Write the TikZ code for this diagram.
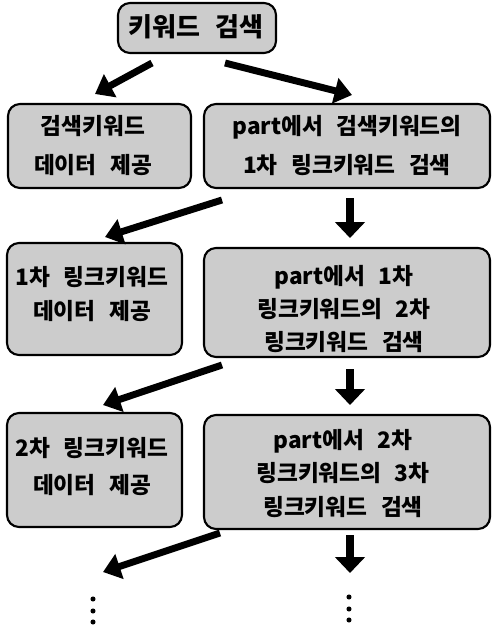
\documentclass[tikz,border=0pt]{standalone}
\usepackage{fontspec}
\setmainfont{Noto Sans CJK KR}[WordSpace=2.6]
\usetikzlibrary{arrows.meta}
\begin{document}
\begin{tikzpicture}[x=0.75pt,y=-0.75pt,
  box/.style={draw=black, line width=1.6pt, rounded corners=9pt, fill=black!20, inner sep=0pt},
  txt/.style={align=center, inner sep=0pt, font=\bfseries\fontsize{17pt}{#1}\selectfont},
  txt/.default=26pt,
  arr/.style={line width=5.2pt, -{Triangle[width=19pt,length=13pt]}},
  varr/.style={line width=6.5pt, -{Triangle[width=22pt,length=12pt]}},
  dotc/.style={circle, fill=black, inner sep=0pt, minimum size=3.8pt}]
\useasboundingbox (0,0) rectangle (494,629);
% boxes
\node[box, minimum width=118.5pt, minimum height=37.5pt] (top) at (197,28) {};
\node[box, minimum width=137.25pt, minimum height=63pt] (r1L) at (99.5,146) {};
\node[box, minimum width=214.5pt, minimum height=63pt] (r1R) at (347,146) {};
\node[box, minimum width=131.25pt, minimum height=84pt] (r2L) at (94.5,299) {};
\node[box, minimum width=214.5pt, minimum height=81.75pt] (r2R) at (347,302.5) {};
\node[box, minimum width=131.25pt, minimum height=85.5pt] (r3L) at (94.5,470) {};
\node[box, minimum width=214.5pt, minimum height=85.5pt] (r3R) at (347,472) {};
% texts
\node[txt, font=\bfseries\fontsize{19.5pt}{24pt}\selectfont] (topT) at (196,27) {키워드 검색};
\node[txt=29pt] (r1LT) at (93,145.5) {검색키워드\\데이터 제공};
\node[txt=29pt] (r1RT) at (347,145.5) {part에서 검색키워드의\\1차 링크키워드 검색};
\node[txt=25.5pt] (r2LT) at (92,294) {1차 링크키워드\\데이터 제공};
\node[txt=24.75pt] (r2RT) at (344,309) {part에서 1차\\링크키워드의 2차\\링크키워드 검색};
\node[txt=27.75pt] (r3LT) at (92,466.5) {2차 링크키워드\\데이터 제공};
\node[txt=25pt] (r3RT) at (343,473.5) {part에서 2차\\링크키워드의 3차\\링크키워드 검색};
% arrow end points
\coordinate (a1s) at (152,63);  \coordinate (a1e) at (95,94);
\coordinate (a2s) at (225,63);  \coordinate (a2e) at (352,95);
\coordinate (a3s) at (222,200); \coordinate (a3e) at (105,237);
\coordinate (a4s) at (350,198); \coordinate (a4e) at (350,238);
\coordinate (a5s) at (222,365); \coordinate (a5e) at (103,405);
\coordinate (a6s) at (350,369); \coordinate (a6e) at (350,405);
\coordinate (a7s) at (220,533); \coordinate (a7e) at (103,572);
\coordinate (a8s) at (350,535); \coordinate (a8e) at (350,573);
\draw[arr] (a1s) -- (a1e);
\draw[arr] (a2s) -- (a2e);
\draw[arr] (a3s) -- (a3e);
\draw[varr] (a4s) -- (a4e);
\draw[arr] (a5s) -- (a5e);
\draw[varr] (a6s) -- (a6e);
\draw[arr] (a7s) -- (a7e);
\draw[varr] (a8s) -- (a8e);
% continuation dots
\node[dotc] (dL1) at (93,599) {};
\node[dotc] (dL2) at (93,611) {};
\node[dotc] (dL3) at (93,622) {};
\node[dotc] (dR1) at (349,597) {};
\node[dotc] (dR2) at (349,609) {};
\node[dotc] (dR3) at (349,620) {};
\end{tikzpicture}
\end{document}
